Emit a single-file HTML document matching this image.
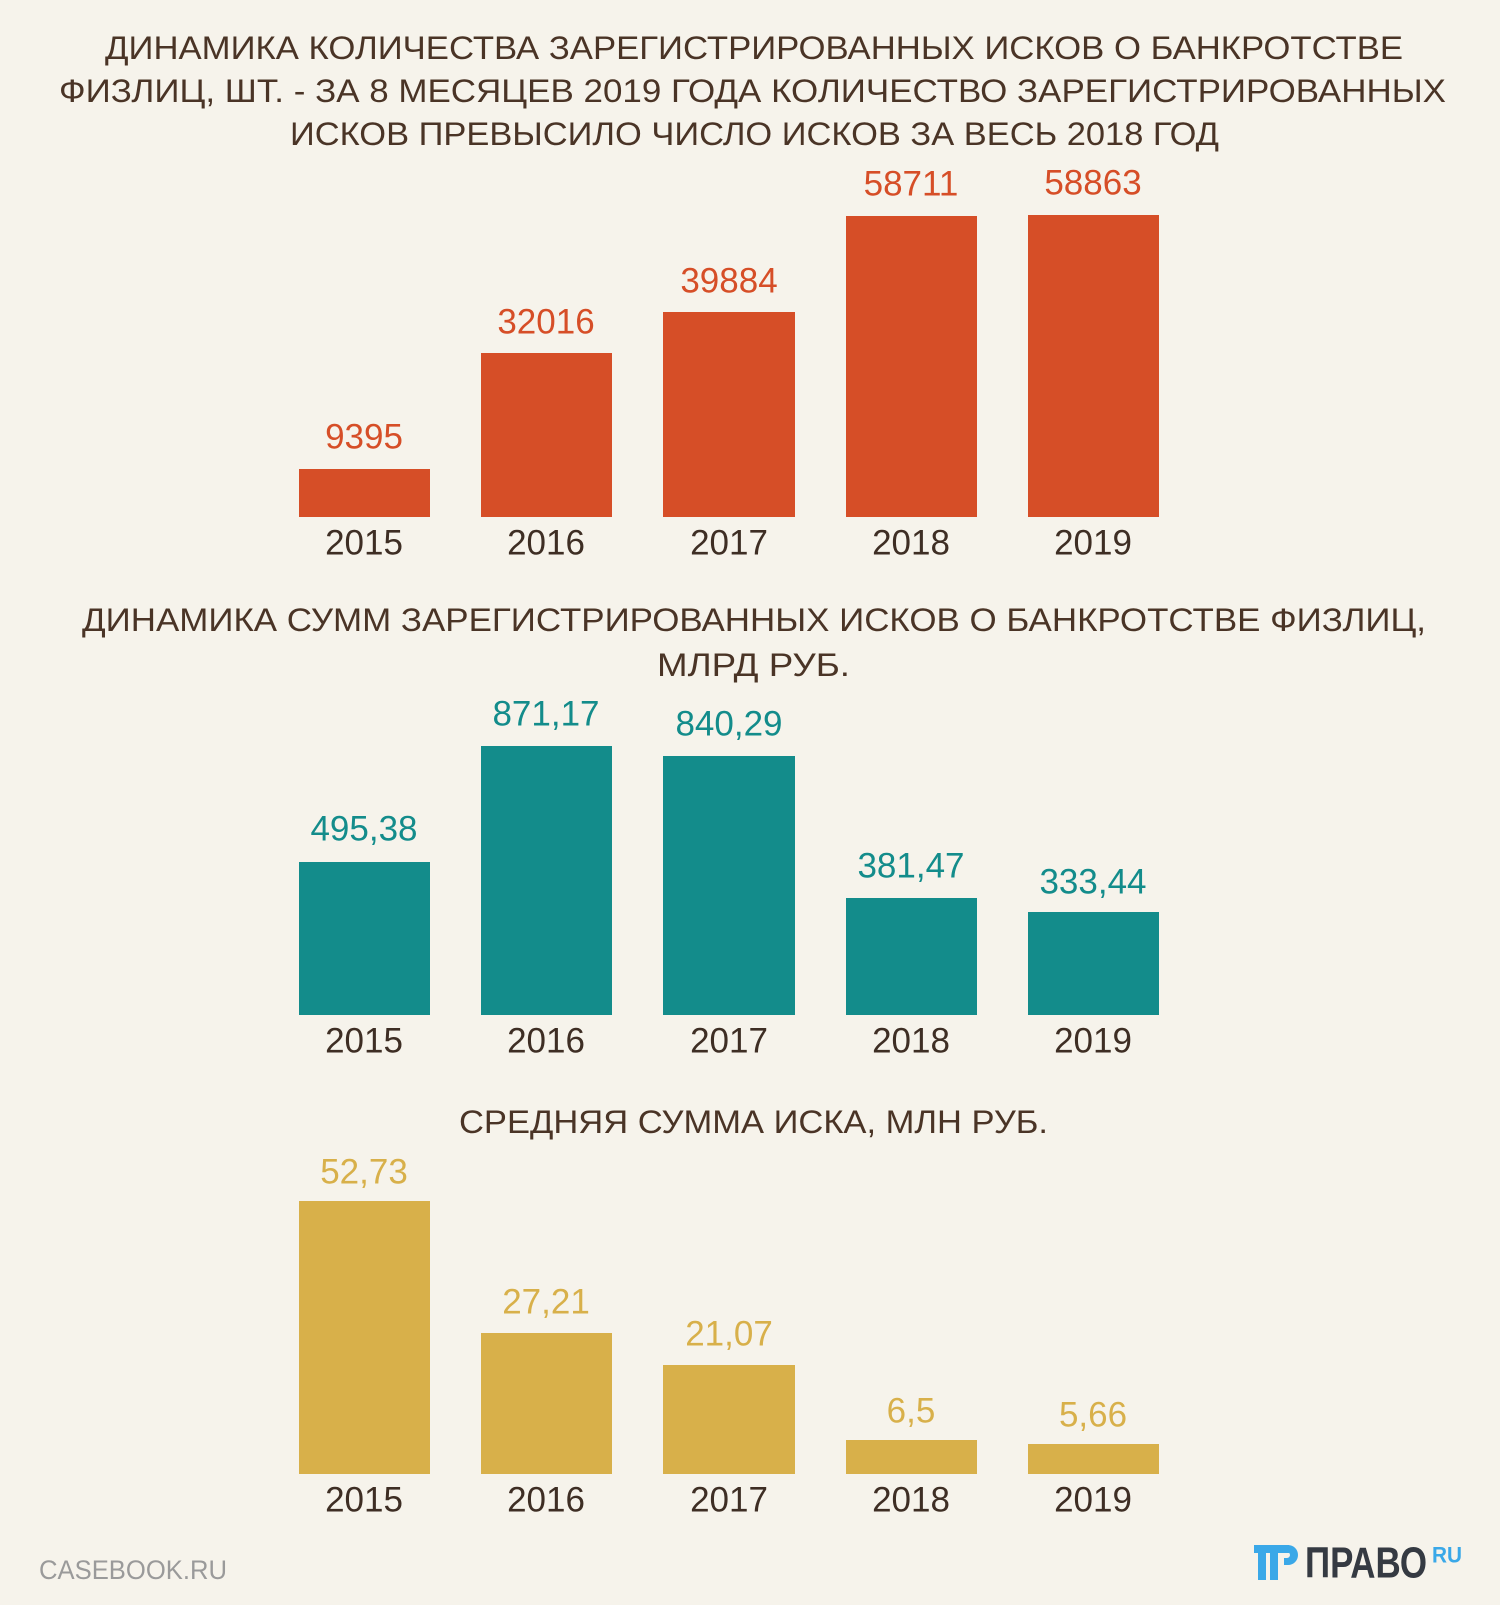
<!DOCTYPE html>
<html><head><meta charset="utf-8"><style>
html,body{margin:0;padding:0;background:#f6f3eb;}
svg{display:block}
text{font-family:"Liberation Sans",sans-serif;}
</style></head><body>
<svg width="1500" height="1605" viewBox="0 0 1500 1605" xmlns="http://www.w3.org/2000/svg">
<rect width="1500" height="1605" fill="#f6f3eb"/>
<g fill="#4a3426" font-size="32" dominant-baseline="central" lengthAdjust="spacingAndGlyphs">
<text x="105" y="48" textLength="1298" lengthAdjust="spacingAndGlyphs">ДИНАМИКА КОЛИЧЕСТВА ЗАРЕГИСТРИРОВАННЫХ ИСКОВ О БАНКРОТСТВЕ</text>
<text x="59" y="91" textLength="1387" lengthAdjust="spacingAndGlyphs">ФИЗЛИЦ, ШТ. - ЗА 8 МЕСЯЦЕВ 2019 ГОДА КОЛИЧЕСТВО ЗАРЕГИСТРИРОВАННЫХ</text>
<text x="290" y="134" textLength="929" lengthAdjust="spacingAndGlyphs">ИСКОВ ПРЕВЫСИЛО ЧИСЛО ИСКОВ ЗА ВЕСЬ 2018 ГОД</text>
<text x="82" y="620" textLength="1344" lengthAdjust="spacingAndGlyphs">ДИНАМИКА СУММ ЗАРЕГИСТРИРОВАННЫХ ИСКОВ О БАНКРОТСТВЕ ФИЗЛИЦ,</text>
<text x="657" y="665" textLength="193" lengthAdjust="spacingAndGlyphs">МЛРД РУБ.</text>
<text x="459" y="1122" textLength="589" lengthAdjust="spacingAndGlyphs">СРЕДНЯЯ СУММА ИСКА, МЛН РУБ.</text>
</g>
<!-- chart 1 -->
<g fill="#d64e27">
<rect x="299" y="469" width="131" height="48"/>
<rect x="481" y="353" width="131" height="164"/>
<rect x="663" y="312" width="132" height="205"/>
<rect x="846" y="216" width="131" height="301"/>
<rect x="1028" y="215" width="131" height="302"/>
</g>
<g fill="#d64e27" font-size="35" text-anchor="middle" dominant-baseline="central">
<text x="364" y="437">9395</text>
<text x="546" y="322">32016</text>
<text x="729" y="281">39884</text>
<text x="911" y="184">58711</text>
<text x="1093" y="183">58863</text>
</g>
<!-- chart 2 -->
<g fill="#138c8b">
<rect x="299" y="862" width="131" height="153"/>
<rect x="481" y="746" width="131" height="269"/>
<rect x="663" y="756" width="132" height="259"/>
<rect x="846" y="898" width="131" height="117"/>
<rect x="1028" y="912" width="131" height="103"/>
</g>
<g fill="#138c8b" font-size="35" text-anchor="middle" dominant-baseline="central">
<text x="364" y="829">495,38</text>
<text x="546" y="714">871,17</text>
<text x="729" y="724">840,29</text>
<text x="911" y="866">381,47</text>
<text x="1093" y="882">333,44</text>
</g>
<!-- chart 3 -->
<g fill="#d8b04a">
<rect x="299" y="1201" width="131" height="273"/>
<rect x="481" y="1333" width="131" height="141"/>
<rect x="663" y="1365" width="132" height="109"/>
<rect x="846" y="1440" width="131" height="34"/>
<rect x="1028" y="1444" width="131" height="30"/>
</g>
<g fill="#d8b04a" font-size="35" text-anchor="middle" dominant-baseline="central">
<text x="364" y="1172">52,73</text>
<text x="546" y="1302">27,21</text>
<text x="729" y="1334">21,07</text>
<text x="911" y="1411">6,5</text>
<text x="1093" y="1415">5,66</text>
</g>
<!-- years -->
<g fill="#3e2e24" font-size="35" text-anchor="middle" dominant-baseline="central">
<text x="364" y="543">2015</text><text x="546" y="543">2016</text><text x="729" y="543">2017</text><text x="911" y="543">2018</text><text x="1093" y="543">2019</text>
<text x="364" y="1041">2015</text><text x="546" y="1041">2016</text><text x="729" y="1041">2017</text><text x="911" y="1041">2018</text><text x="1093" y="1041">2019</text>
<text x="364" y="1500">2015</text><text x="546" y="1500">2016</text><text x="729" y="1500">2017</text><text x="911" y="1500">2018</text><text x="1093" y="1500">2019</text>
</g>
<text x="39" y="1570" fill="#9a9a9a" font-size="27" dominant-baseline="central" textLength="188" lengthAdjust="spacingAndGlyphs">CASEBOOK.RU</text>
<!-- logo -->
<g>
<rect x="1254" y="1545" width="35" height="8" fill="#3aa8e8"/>
<rect x="1258" y="1553" width="8" height="27" fill="#3aa8e8"/>
<rect x="1270" y="1553" width="8" height="27" fill="#3aa8e8"/>
<path d="M1282 1545 h6 a10 10 0 0 1 0 20 h-4 v-7 h3 a3 3 0 0 0 0 -6 h-5z" fill="#3aa8e8"/>
<text x="1305" y="1563" fill="#353a42" font-size="44" font-weight="bold" dominant-baseline="central" textLength="122" lengthAdjust="spacingAndGlyphs">ПРАВО</text>
<text x="1432" y="1555" fill="#3aa8e8" font-size="22" font-weight="bold" dominant-baseline="central" textLength="30" lengthAdjust="spacingAndGlyphs">RU</text>
</g>
</svg>
</body></html>
